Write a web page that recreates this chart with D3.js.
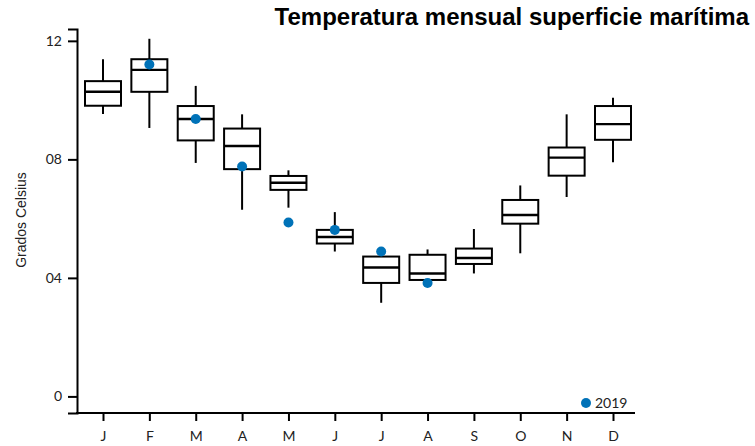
<!DOCTYPE html>
<html>
<head>
<meta charset="utf-8">
<script src="https://cdn.jsdelivr.net/npm/d3@7"></script>
<style>
  body { margin: 0; background: #fff; }
  svg { display: block; }
</style>
</head>
<body>
<svg id="chart" width="755" height="446"></svg>
<script>
// Month labels
var months = ['J', 'F', 'M', 'A', 'M', 'J', 'J', 'A', 'S', 'O', 'N', 'D'];

// Box plot stats per month
var whiskerLow = [9.53, 9.06, 7.88, 6.30, 6.37, 4.89, 3.16, 3.86, 4.15, 4.83, 6.73, 7.90];
var q1         = [9.81, 10.28, 8.64, 7.67, 6.97, 5.16, 3.83, 3.93, 4.47, 5.83, 7.45, 8.66];
var median     = [10.28, 11.02, 9.36, 8.45, 7.21, 5.38, 4.35, 4.15, 4.67, 6.12, 8.06, 9.19];
var q3         = [10.64, 11.38, 9.80, 9.04, 7.44, 5.62, 4.72, 4.78, 4.99, 6.63, 8.40, 9.80];
var whiskerHigh= [11.38, 12.07, 10.48, 9.52, 7.63, 6.22, 4.80, 4.96, 5.65, 7.12, 9.52, 10.08];

// 2019 values (Feb - Aug)
var year2019 = [null, 11.20, 9.36, 7.76, 5.87, 5.62, 4.89, 3.83, null, null, null, null];

// Y axis ticks
var yTicks = [0, 4, 8, 12];
var yTickLabels = ['0', '04', '08', '12'];

var svg = d3.select('#chart');
var tickFont = 'Lato, "Noto Sans", sans-serif';

var x = d3.scalePoint()
  .domain(d3.range(months.length))
  .range([103, 613]);

var y = d3.scaleLinear()
  .domain([-0.56, 12.4])
  .range([413, 29]);

// Y axis
var yAxis = svg.append('g')
  .attr('transform', 'translate(77,0)')
  .call(d3.axisLeft(y).tickValues(yTicks).tickSizeOuter(0).tickSize(9)
    .tickFormat(function(d, i) { return yTickLabels[i]; }));
yAxis.select('.domain').attr('stroke', '#000').attr('stroke-width', 2);
yAxis.selectAll('.tick line').attr('stroke', '#000').attr('stroke-width', 2);
yAxis.selectAll('.tick text')
  .attr('x', -15)
  .style('font-family', tickFont)
  .style('font-size', '14px')
  .attr('fill', '#222');

// X axis
var xAxis = svg.append('g')
  .attr('transform', 'translate(0,413)')
  .call(d3.axisBottom(x).tickSize(8).tickFormat(function(d) { return months[d]; }));
xAxis.select('.domain').remove();
xAxis.append('line')
  .attr('x1', 76).attr('x2', 635)
  .attr('stroke', '#000').attr('stroke-width', 2);
xAxis.selectAll('.tick line').attr('stroke', '#000').attr('stroke-width', 2);
xAxis.selectAll('.tick text')
  .attr('y', 18)
  .style('font-family', tickFont)
  .style('font-size', '14px')
  .attr('fill', '#222');

// Boxes
var boxW = 36;
var boxes = svg.append('g').selectAll('g')
  .data(d3.range(months.length))
  .enter().append('g');

boxes.append('line')
  .attr('x1', function(i) { return x(i); })
  .attr('x2', function(i) { return x(i); })
  .attr('y1', function(i) { return y(whiskerHigh[i]); })
  .attr('y2', function(i) { return y(q3[i]); })
  .attr('stroke', '#000').attr('stroke-width', 2);

boxes.append('line')
  .attr('x1', function(i) { return x(i); })
  .attr('x2', function(i) { return x(i); })
  .attr('y1', function(i) { return y(q1[i]); })
  .attr('y2', function(i) { return y(whiskerLow[i]); })
  .attr('stroke', '#000').attr('stroke-width', 2);

boxes.append('rect')
  .attr('x', function(i) { return x(i) - boxW / 2; })
  .attr('width', boxW)
  .attr('y', function(i) { return y(q3[i]); })
  .attr('height', function(i) { return y(q1[i]) - y(q3[i]); })
  .attr('fill', 'none')
  .attr('stroke', '#000').attr('stroke-width', 2);

boxes.append('line')
  .attr('x1', function(i) { return x(i) - boxW / 2; })
  .attr('x2', function(i) { return x(i) + boxW / 2; })
  .attr('y1', function(i) { return y(median[i]); })
  .attr('y2', function(i) { return y(median[i]); })
  .attr('stroke', '#000').attr('stroke-width', 2.4);

// 2019 points
svg.append('g').selectAll('circle')
  .data(year2019.map(function(v, i) { return {i: i, v: v}; }).filter(function(d) { return d.v != null; }))
  .enter().append('circle')
  .attr('cx', function(d) { return x(d.i); })
  .attr('cy', function(d) { return y(d.v); })
  .attr('r', 5)
  .attr('fill', '#0072b8');

// Legend
svg.append('circle')
  .attr('cx', 586).attr('cy', 403).attr('r', 5)
  .attr('fill', '#0072b8');
svg.append('text')
  .attr('x', 595).attr('y', 408)
  .style('font-family', tickFont)
  .style('font-size', '14px')
  .attr('fill', '#222')
  .text('2019');

// Y label
svg.append('text')
  .attr('transform', 'translate(26,220) rotate(-90)')
  .attr('text-anchor', 'middle')
  .style('font-family', '"Liberation Sans", Arial, sans-serif')
  .style('font-size', '14px')
  .attr('fill', '#222')
  .text('Grados Celsius');

// Title
svg.append('text')
  .attr('x', 749).attr('y', 25)
  .attr('text-anchor', 'end')
  .style('font-family', '"Liberation Sans", Arial, sans-serif')
  .style('font-weight', 'bold')
  .style('font-size', '24px')
  .attr('fill', '#000')
  .text('Temperatura mensual superficie marítima');
</script>
</body>
</html>
